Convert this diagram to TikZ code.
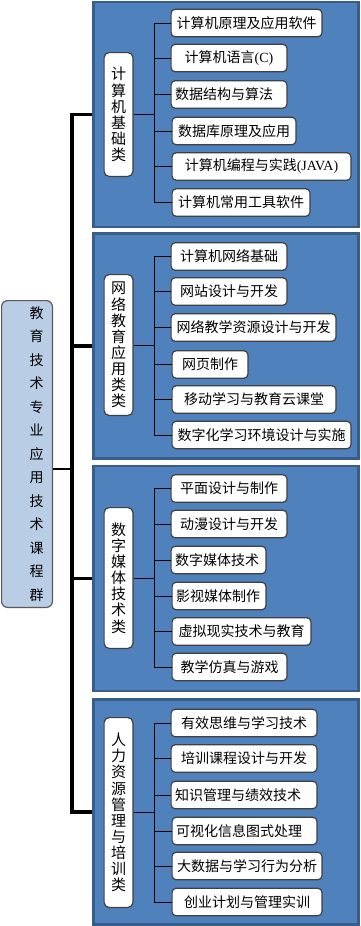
\documentclass[tikz,border=0pt]{standalone}
\usepackage{fontspec}
\setmainfont{Liberation Serif}
\newfontfamily\cjk{Noto Sans CJK SC}
\definecolor{panelblue}{RGB}{79,129,189}
\definecolor{panelline}{RGB}{56,93,138}
\definecolor{boxline}{RGB}{64,64,64}
\definecolor{rootfill}{RGB}{185,205,229}
\definecolor{rootline}{RGB}{90,90,90}

\begin{document}
\begin{tikzpicture}[x=1pt, y=-1pt,
        every node/.style={font=\cjk\fontsize{14}{16}\selectfont},
        panel/.style={draw=panelline, line width=2.7pt, fill=panelblue,
        minimum width=265, minimum height=225},
        item/.style={draw=boxline, line width=1.2pt, fill=white, rounded corners=4pt,
        minimum height=27.5, minimum width=#1, inner xsep=4pt, anchor=west},
        iteml/.style={item=10, text width=#1, align=left},
        cat/.style={draw=boxline, line width=1.2pt, fill=white, rounded corners=5pt,
        minimum width=28.8, inner sep=0pt, align=center,
        font=\cjk\fontsize{15}{16.1}\selectfont},
        rootbox/.style={draw=rootline, line width=1.2pt, fill=rootfill, rounded corners=6pt,
        minimum width=50.8, minimum height=306.8},
        roottext/.style={inner sep=0pt, align=center, font=\cjk\fontsize{14}{23.5}\selectfont},
        trunk/.style={line width=3.5pt},
        rootlink/.style={line width=2pt},
        link/.style={line width=1pt}]
      \useasboundingbox (0,0) rectangle (361,926);
      \node[panel] (pk) at (226.3,114.5) {};
      \node[panel] (pw) at (226.3,346) {};
      \node[panel] (pm) at (226.3,578.5) {};
      \node[panel] (pr) at (226.3,812) {};
      \node[rootbox] (g) at (27,454) {};
      \node[roottext] (gt) at (36.5,454) {教\\育\\技\\术\\专\\业\\应\\用\\技\\术\\课\\程\\群};
      \node[cat, minimum height=123.8] (ck) at (118.5,114.5) {计\\算\\机\\基\\础\\类};
      \node[cat, minimum height=140.8] (cw) at (118.5,345) {网\\络\\教\\育\\应\\用\\类\\类};
      \node[cat, minimum height=140.8] (cm) at (118.5,578) {数\\字\\媒\\体\\技\\术\\类};
      \node[cat, minimum height=189.8] (cr) at (118.5,812.5) {人\\力\\资\\源\\管\\理\\与\\培\\训\\类};
      \node[item=150.8] (k1) at (170.5,23) {计算机原理及应用软件};
      \node[item=115.8] (k2) at (170.5,58) {计算机语言{\rmfamily(C)}};
      \node[iteml=107.8] (k3) at (170.5,94.5) {数据结构与算法};
      \node[item=123.8] (k4) at (171.5,131) {数据库原理及应用};
      \node[item=178.8] (k5) at (171.5,166.5) {计算机编程与实践{\rmfamily(JAVA)}};
      \node[item=137.8] (k6) at (171.5,202.5) {计算机常用工具软件};
      \node[item=115.8] (w1) at (170.5,256.5) {计算机网络基础};
      \node[item=115.8] (w2) at (170.5,291.5) {网站设计与开发};
      \node[item=164.8] (w3) at (170.5,327.5) {网络教学资源设计与开发};
      \node[item=75.8] (w4) at (171.5,364.5) {网页制作};
      \node[item=163.8] (w5) at (171.5,399.5) {移动学习与教育云课堂};
      \node[item=178.8] (w6) at (171.5,435) {数字化学习环境设计与实施};
      \node[item=115.8] (m1) at (170.5,488.5) {平面设计与制作};
      \node[item=115.8] (m2) at (170.5,524) {动漫设计与开发};
      \node[iteml=86.8] (m3) at (170.5,560) {数字媒体技术};
      \node[iteml=85.8] (m4) at (171.5,596) {影视媒体制作};
      \node[item=138.8] (m5) at (171.5,631.5) {虚拟现实技术与教育};
      \node[item=114.8] (m6) at (171.5,667) {教学仿真与游戏};
      \node[item=145.8] (r1) at (170.5,723) {有效思维与学习技术};
      \node[item=145.8] (r2) at (170.5,758.5) {培训课程设计与开发};
      \node[iteml=137.8] (r3) at (170.5,795) {知识管理与绩效技术};
      \node[iteml=136.8] (r4) at (171.5,831) {可视化信息图式处理};
      \node[item=149.8] (r5) at (171.5,866) {大数据与学习行为分析};
      \node[item=149.8] (r6) at (171.5,902) {创业计划与管理实训};
      \coordinate (t) at (72,469);
      \coordinate (br) at (154.5,0);
      \draw[trunk] (pk.west) -- (pk.west -| t) -- (pr.west -| t) -- (pr.west)
        (pw.west) -- (pw.west -| t) (pm.west) -- (pm.west -| t);
      \draw[rootlink] (g.east |- t) -- (t);
      \draw[link] (ck.east) -- (ck.east -| br)
        (k1.west) -- (k1.west -| br) -- (k6.west -| br) -- (k6.west)
        (k2.west) -- (k2.west -| br) (k3.west) -- (k3.west -| br)
        (k4.west) -- (k4.west -| br) (k5.west) -- (k5.west -| br);
      \draw[link] (cw.east) -- (cw.east -| br)
        (w1.west) -- (w1.west -| br) -- (w6.west -| br) -- (w6.west)
        (w2.west) -- (w2.west -| br) (w3.west) -- (w3.west -| br)
        (w4.west) -- (w4.west -| br) (w5.west) -- (w5.west -| br);
      \draw[link] (cm.east) -- (cm.east -| br)
        (m1.west) -- (m1.west -| br) -- (m6.west -| br) -- (m6.west)
        (m2.west) -- (m2.west -| br) (m3.west) -- (m3.west -| br)
        (m4.west) -- (m4.west -| br) (m5.west) -- (m5.west -| br);
      \draw[link] (cr.east) -- (cr.east -| br)
        (r1.west) -- (r1.west -| br) -- (r6.west -| br) -- (r6.west)
        (r2.west) -- (r2.west -| br) (r3.west) -- (r3.west -| br)
        (r4.west) -- (r4.west -| br) (r5.west) -- (r5.west -| br);
    \end{tikzpicture}
\end{document}
